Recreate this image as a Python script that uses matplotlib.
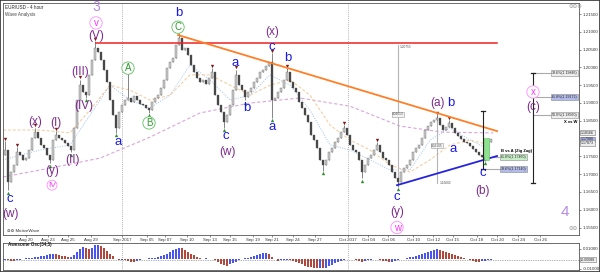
import matplotlib.pyplot as plt
from matplotlib.patches import Rectangle

plt.rcParams['font.family'] = ['Liberation Sans', 'DejaVu Sans']

# EUR/USD 4h closes (one bar per slot), first open and wick extremes
first_open = 1.1755
closes = [
    1.1768, 1.1678, 1.1706, 1.1726, 1.1762, 1.1754, 1.1740, 1.1745, 1.1768, 1.1802,
    1.1818, 1.1802, 1.1782, 1.1773, 1.1754, 1.1740, 1.1796, 1.1810, 1.1802, 1.1796,
    1.1788, 1.1779, 1.1768, 1.1830, 1.1908, 1.1950, 1.1931, 1.1922, 1.1979, 1.2021,
    1.2054, 1.2043, 1.2021, 1.1993, 1.1959, 1.1908, 1.1866, 1.1830, 1.1875, 1.1894,
    1.1908, 1.1914, 1.1903, 1.1920, 1.1908, 1.1897, 1.1894, 1.1886, 1.1880, 1.1903,
    1.1914, 1.1922, 1.1942, 1.1965, 1.1998, 1.2015, 1.2026, 1.2063, 1.2083, 1.2049,
    1.2054, 1.2035, 1.2007, 1.1987, 1.1970, 1.1959, 1.1965, 1.1953, 1.1970, 1.1987,
    1.1922, 1.1894, 1.1875, 1.1847, 1.1866, 1.1894, 1.1936, 1.1979, 1.1950, 1.1936,
    1.1917, 1.1931, 1.1942, 1.1959, 1.1970, 1.1987, 1.1993, 1.2004, 1.2015, 1.1908,
    1.1914, 1.1931, 1.1942, 1.1965, 1.1987, 1.1959, 1.1942, 1.1931, 1.1903, 1.1886,
    1.1866, 1.1847, 1.1810, 1.1796, 1.1773, 1.1740, 1.1726, 1.1740, 1.1762, 1.1773,
    1.1790, 1.1802, 1.1818, 1.1830, 1.1810, 1.1782, 1.1768, 1.1762, 1.1740, 1.1706,
    1.1726, 1.1745, 1.1754, 1.1768, 1.1782, 1.1762, 1.1745, 1.1740, 1.1726, 1.1706,
    1.1689, 1.1678, 1.1706, 1.1717, 1.1726, 1.1740, 1.1762, 1.1773, 1.1782, 1.1802,
    1.1824, 1.1835, 1.1847, 1.1852, 1.1858, 1.1838, 1.1824, 1.1832, 1.1844, 1.1830,
    1.1816, 1.1807, 1.1799, 1.1790, 1.1788, 1.1779, 1.1771, 1.1762, 1.1754, 1.1748,
    1.1745, 1.1790, 1.1799,
]
wick_highs = {0: 1.1793, 4: 1.1776, 10: 1.1830, 17: 1.1821, 25: 1.1965, 30: 1.2074,
              41: 1.1984, 58: 1.2097, 69: 1.1998, 77: 1.1993, 89: 1.2040, 94: 1.1998,
              113: 1.1838, 124: 1.1790, 144: 1.1866, 148: 1.1852}
wick_lows = {1: 1.1655, 15: 1.1731, 22: 1.1762, 27: 1.1914, 37: 1.1816, 48: 1.1872,
             73: 1.1830, 80: 1.1908, 89: 1.1858, 106: 1.1709, 119: 1.1689, 131: 1.1664,
             160: 1.1737}

# Awesome oscillator (34,5)
ao_values = [
    -0.0010, -0.0012, -0.0018, -0.0020, -0.0015, -0.0010, 0.0000, 0.0005, 0.0010, 0.0012,
    0.0018, 0.0022, 0.0025, 0.0030, 0.0040, 0.0048, 0.0052, 0.0045, 0.0038, 0.0030,
    0.0025, 0.0020, 0.0022, 0.0035, 0.0065, 0.0095, 0.0115, 0.0105, 0.0095, 0.0110,
    0.0135, 0.0142, 0.0130, 0.0105, 0.0075, 0.0050, 0.0025, 0.0000, -0.0010, -0.0008,
    -0.0012, -0.0020, -0.0028, -0.0030, -0.0025, -0.0015, -0.0005, 0.0002, 0.0005, 0.0008,
    0.0012, 0.0020, 0.0028, 0.0038, 0.0050, 0.0068, 0.0085, 0.0098, 0.0108, 0.0105,
    0.0090, 0.0072, 0.0052, 0.0035, 0.0020, 0.0008, 0.0003, 0.0005, 0.0002, -0.0003,
    -0.0015, -0.0030, -0.0048, -0.0062, -0.0070, -0.0055, -0.0040, -0.0030, -0.0015, -0.0005,
    0.0005, 0.0012, 0.0020, 0.0030, 0.0040, 0.0048, 0.0055, 0.0060, 0.0045, 0.0020,
    -0.0005, -0.0025, -0.0015, -0.0010, -0.0008, -0.0012, -0.0025, -0.0035, -0.0045, -0.0055,
    -0.0068, -0.0078, -0.0085, -0.0090, -0.0092, -0.0090, -0.0094, -0.0088, -0.0075, -0.0060,
    -0.0045, -0.0030, -0.0018, -0.0008, 0.0000, 0.0002, -0.0005, -0.0015, -0.0025, -0.0030,
    -0.0025, -0.0015, -0.0008, -0.0002, 0.0002, -0.0008, -0.0018, -0.0025, -0.0030, -0.0028,
    -0.0020, -0.0010, -0.0004, 0.0002, 0.0008, 0.0015, 0.0020, 0.0025, 0.0035, 0.0048,
    0.0060, 0.0070, 0.0080, 0.0090, 0.0098, 0.0092, 0.0082, 0.0070, 0.0060, 0.0048,
    0.0035, 0.0025, 0.0015, 0.0005, -0.0005, -0.0015, -0.0022, -0.0028, -0.0030, -0.0025,
    -0.0018, -0.0012, -0.0008,
]

# moving averages (bar, price)
ma_slow_x = [-0.67, 15, 31.67, 48.33, 65, 81.67, 98.33, 115, 131.67, 146, 162.67]
ma_slow_y = [1.1692, 1.1717, 1.1745, 1.1804, 1.1872, 1.1900, 1.1914, 1.1891, 1.1835, 1.1818, 1.1816]
ma_x = [-0.67, 11.67, 21.67, 28.33, 35, 41.67, 48.33, 55, 61.67, 68.33, 75, 81.67,
        88.33, 95, 101.67, 108.33, 115, 121.67, 128.33, 135, 141.67, 148.33, 155, 161.67]
ma_fast_y = [1.1740, 1.1768, 1.1782, 1.1866, 1.1950, 1.1908, 1.1886, 1.1922, 1.2007, 1.1965,
             1.1908, 1.1922, 1.1979, 1.1950, 1.1880, 1.1782, 1.1768, 1.1740, 1.1712, 1.1712,
             1.1796, 1.1830, 1.1796, 1.1768]
ma_mid_y = [1.1824, 1.1824, 1.1816, 1.1880, 1.1950, 1.1936, 1.1908, 1.1922, 1.1979, 1.1979,
            1.1950, 1.1922, 1.1950, 1.1965, 1.1922, 1.1838, 1.1796, 1.1768, 1.1726, 1.1706,
            1.1740, 1.1782, 1.1796, 1.1782]

date_pos = [7, 14.33, 21, 28.67, 39, 47.33, 53.33, 60.67, 68.33, 75, 82.67, 89, 96, 103.33,
            114.33, 121, 127.67, 136, 142.67, 149.33, 157.33, 164, 171, 178.33]
date_labels = ['Aug 20', 'Aug 23', 'Aug 25', 'Aug 29', 'Sep 2017', 'Sep 05', 'Sep 07', 'Sep 10',
               'Sep 13', 'Sep 15', 'Sep 19', 'Sep 21', 'Sep 24', 'Sep 27', 'Oct 2017', 'Oct 04',
               'Oct 06', 'Oct 10', 'Oct 12', 'Oct 15', 'Oct 18', 'Oct 20', 'Oct 24', 'Oct 26']
price_ticks = [1.155, 1.160, 1.165, 1.170, 1.175, 1.185, 1.190, 1.195, 1.200, 1.205, 1.210, 1.215]

PURPLE = '#7d2a8c'
BLUE = '#1a1ae6'
GREEN = '#2f9a2f'
PINK = '#ff33ff'
LILAC = '#b48ae0'

fig = plt.figure(figsize=(6, 2.72), dpi=100)
fig.patch.set_facecolor('white')
ax = fig.add_axes([0.005, 0.136, 0.96, 0.853])
ao = fig.add_axes([0.005, 0.008, 0.96, 0.099], sharex=ax)

# candles
prev = first_open
for i, c in enumerate(closes):
    o = prev
    hi = max(o, c, wick_highs.get(i, c))
    lo = min(o, c, wick_lows.get(i, c))
    ax.vlines(i, lo, hi, color='#555555', lw=0.5, zorder=3)
    fc = '#cccccc' if c >= o else '#454545'
    ax.add_patch(Rectangle((i - 0.3, min(o, c)), 0.6, max(abs(c - o), 0.00005),
                           fc=fc, ec='#555555', lw=0.25, zorder=4))
    prev = c
for i, h in wick_highs.items():
    ax.plot(i, h + 0.0007, marker='v', ms=2.4, color='#7a1a1a', mec='none', zorder=5)
for i, l in wick_lows.items():
    ax.plot(i, l - 0.0007, marker='^', ms=2.4, color='#2e8b2e', mec='none', zorder=5)

# moving averages
ax.plot(ma_slow_x, ma_slow_y, color='#d9a6d9', lw=0.8, ls=(0, (3, 2)), zorder=1)
ax.plot(ma_x, ma_fast_y, color='#9fbff0', lw=0.7, ls=(0, (1, 1.5)), zorder=1)
ax.plot(ma_x, ma_mid_y, color='#f5c896', lw=0.7, ls=(0, (3, 2)), zorder=1)

# month separators
for m in [39, 114.33]:
    ax.axvline(m, color='#999999', lw=0.6, ls=(0, (1, 1.5)), zorder=0)
    ao.axvline(m, color='#999999', lw=0.6, ls=(0, (1, 1.5)), zorder=0)

# trend lines
ax.plot([30.33, 164], [1.2069, 1.2069], color='#ee2222', lw=1.1, zorder=6)
ax.plot([57.67, 164], [1.2091, 1.1821], color='#ff7f27', lw=1.3, zorder=6)
ax.plot([130.67, 164], [1.1669, 1.1751], color='#2424e0', lw=1.3, zorder=6)

# measurement lines
ax.plot([131, 131], [1.1669, 1.2063], color='#b5b5b5', lw=0.8, zorder=2)
ax.plot([144, 144], [1.1675, 1.1866], color='#b5b5b5', lw=0.8, zorder=2)
small_box = dict(boxstyle='square,pad=0.15', fc='#f2f2f2', ec='#999999', lw=0.4)
ax.text(131.6, 1.2063, '1.20755', fontsize=2.3, color='#555555', va='top')
ax.text(131, 1.1866, '0.04013', fontsize=2.3, color='#555555', ha='center', bbox=small_box, zorder=7)
ax.text(144, 1.1777, '0.02105', fontsize=2.3, color='#555555', ha='center', bbox=small_box, zorder=7)
ax.text(145, 1.1675, '1.16682', fontsize=2.3, color='#555555', va='center')

# green box and fib targets
ax.add_patch(Rectangle((159.67, 1.1740), 1.66, 0.0061, fc='#8fe08f', ec='#5cbf5c', lw=0.4, zorder=6))
ax.plot([159.33, 159.33], [1.1714, 1.1877], color='#222222', lw=0.8, zorder=6)
ax.plot([158.6, 160.1], [1.1877, 1.1877], color='#222222', lw=0.9, zorder=6)
ax.plot([158.6, 160.1], [1.1714, 1.1714], color='#222222', lw=0.9, zorder=6)
ax.plot([176, 176], [1.1675, 1.1984], color='#222222', lw=0.8, zorder=6)
ax.plot([175.2, 176.8], [1.1984, 1.1984], color='#222222', lw=0.9, zorder=6)
ax.plot([175.2, 176.8], [1.1675, 1.1675], color='#222222', lw=0.9, zorder=6)

fib_lo = [(1.17480, '61.8%(1.17460)', '#c9efc9'), (1.17140, '78.6%(1.17140)', '#b4bde9')]
for p, t, col in fib_lo:
    ax.plot([159.33, 165], [p, p], color='#aaaaaa', lw=0.8, zorder=5)
    ax.text(165.2, p, t, fontsize=2.6, va='center', color='#222222', zorder=7,
            bbox=dict(boxstyle='square,pad=0.25', fc=col, ec='#888888', lw=0.4))
ax.text(165.2, 1.1764, 'B vs A (Zig Zag)', fontsize=3, fontweight='bold', va='center')

fib_hi = [(1.19846, '78.6%(1.19846)', '#eeeeee'), (1.19172, '61.8%(1.19172)', '#b4bde9'),
          (1.18660, '50.0%(1.18560)', '#eeeeee')]
for p, t, col in fib_hi:
    ax.plot([176, 182], [p, p], color='#aaaaaa', lw=0.8, zorder=5)
    ax.text(182.2, p, t, fontsize=2.6, va='center', color='#222222', zorder=7,
            bbox=dict(boxstyle='square,pad=0.25', fc=col, ec='#888888', lw=0.4))
ax.text(190.8, 1.1847, 'X vs W', fontsize=3, fontweight='bold', va='center', ha='right')


# wave labels
def lab(x, y, s, color, size=9):
    ax.text(x, y, s, color=color, fontsize=size, ha='center', va='center', zorder=8)


def circ(x, y, s, color, edge, size=7):
    ax.text(x, y, s, color=color, fontsize=size, ha='center', va='center', zorder=8,
            bbox=dict(boxstyle='circle,pad=0.12', fc='white', ec=edge, lw=0.6))


lab(30.33, 1.2170, '3', LILAC, 10)
circ(30.33, 1.2125, 'v', PINK, '#ff8cff')
lab(30.33, 1.2088, '(V)', PURPLE, 8.5)
lab(25, 1.1987, '(III)', PURPLE, 8.5)
lab(26.33, 1.1891, '(IV)', PURPLE, 8.5)
lab(22.33, 1.1740, '(II)', PURPLE, 8.5)
lab(17, 1.1844, '(I)', PURPLE, 8.5)
lab(10, 1.1847, '(x)', PURPLE, 8.5)
lab(15.67, 1.1709, '(y)', PURPLE, 8.5)
circ(15.67, 1.1669, 'IV', PINK, '#ff8cff', 6)
lab(1.67, 1.1630, 'c', BLUE, 9.5)
lab(1.67, 1.1588, '(w)', PURPLE, 8.5)
lab(37.67, 1.1790, 'a', BLUE, 9.5)
circ(41, 1.1998, 'A', GREEN, '#5fc05f')
circ(48, 1.1844, 'B', GREEN, '#5fc05f')
circ(57.67, 1.2113, 'C', GREEN, '#5fc05f')
lab(58, 1.2153, 'b', BLUE, 9.5)
lab(76.67, 1.2012, 'a', BLUE, 9.5)
lab(80.67, 1.1886, 'b', BLUE, 9.5)
lab(73.67, 1.1807, 'c', BLUE, 9.5)
lab(74, 1.1762, '(w)', PURPLE, 8.5)
lab(89, 1.2099, '(x)', PURPLE, 8.5)
lab(89, 1.2057, 'c', BLUE, 9.5)
lab(94.33, 1.2026, 'b', BLUE, 9.5)
lab(89, 1.1832, 'a', BLUE, 9.5)
lab(130.67, 1.1637, 'c', BLUE, 9.5)
lab(130.67, 1.1594, '(y)', PURPLE, 8.5)
circ(130.67, 1.1550, 'w', PINK, '#ff8cff')
lab(144, 1.1900, '(a)', PURPLE, 8.5)
lab(148.67, 1.1900, 'b', BLUE, 9.5)
lab(149.5, 1.1772, 'a', BLUE, 9.5)
lab(159.33, 1.1703, 'c', BLUE, 9.5)
lab(159.33, 1.1653, '(b)', PURPLE, 8.5)
circ(176, 1.1931, 'x', PINK, '#ff8cff')
lab(176, 1.1889, '(c)', PURPLE, 8.5)
lab(186.67, 1.1594, '4', LILAC, 11)

ax.set_xlim(-0.67, 191.33)
ax.set_ylim(1.1529, 1.2181)
ax.yaxis.tick_right()
ax.set_yticks(price_ticks)
ax.set_yticklabels(['%.5f' % p for p in price_ticks])
ax.set_xticks(date_pos)
ax.set_xticklabels(date_labels)
ax.tick_params(axis='both', labelsize=3.2, length=1.5, width=0.4, pad=1, colors='#333333')
for s in ax.spines.values():
    s.set_color('#555555')
    s.set_linewidth(0.6)

# current price boxes
cur = [(1.18166, '1.18166', '#eeeeee'), (1.17980, '1.17980', '#aab4ea'), (1.17873, '1.17873', '#eeeeee')]
for p, t, col in cur:
    ax.text(192.0, p, t, fontsize=2.6, va='center', color='#222222', clip_on=False,
            bbox=dict(boxstyle='square,pad=0.2', fc=col, ec='#777777', lw=0.4))

# awesome oscillator
cols = ['#4a55f0' if i == 0 or v > ao_values[i - 1] else '#b4463a' for i, v in enumerate(ao_values)]
ao.bar(range(len(ao_values)), ao_values, width=0.8, color=cols, lw=0)
ao.axhline(-0.0008, color='#666666', lw=0.5, ls=(0, (1, 1.5)))
ao.set_ylim(-0.011, 0.016)
ao.yaxis.tick_right()
ao.set_yticks([-0.01, 0.01])
ao.set_yticklabels(['-0.01000', '0.01000'])
ao.tick_params(axis='both', labelsize=3.2, length=1.5, width=0.4, pad=1, colors='#333333')
ao.tick_params(axis='x', labelbottom=False, length=0)
for s in ao.spines.values():
    s.set_color('#555555')
    s.set_linewidth(0.6)
ao.text(192.0, -0.0008, '-0.00088', fontsize=2.6, va='center', color='#222222', clip_on=False,
        bbox=dict(boxstyle='square,pad=0.2', fc='#eeeeee', ec='#777777', lw=0.4))
ao.text(1, 0.0125, 'Awesome Osc(34,5)', fontsize=3.3, fontweight='bold', color='#222222')

fig.text(0.009, 0.982, 'EUR/USD - 4 hour', fontsize=3.3, va='top', color='#222222')
fig.text(0.009, 0.956, 'Wave Analysis', fontsize=3.3, va='top', color='#444444')
fig.text(0.948, 0.985, '\u2296\u2296\u2296', fontsize=4, va='top', color='#999999')
fig.text(0.012, 0.146, '\u2296\u2296 MotiveWave', fontsize=3.2, color='#333333')
fig.text(0.948, 0.155, '\u2296\u2296', fontsize=4, color='#999999')
fig.add_artist(Rectangle((0, 0), 1, 1, transform=fig.transFigure, fill=False,
                         ec='#333333', lw=1.2))

plt.savefig('out.png', dpi=100, facecolor='white')
